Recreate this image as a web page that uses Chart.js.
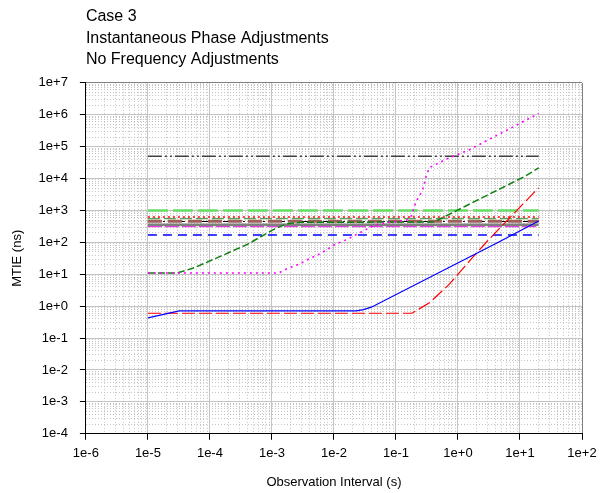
<!DOCTYPE html>
<html>
<head>
<meta charset="utf-8">
<script src="https://cdn.jsdelivr.net/npm/chart.js@4.4.1/dist/chart.umd.min.js"></script>
<style>
  html, body { margin: 0; padding: 0; background: #ffffff; }
  canvas { display: block; }
</style>
</head>
<body>
<canvas id="mtie" width="608" height="493"></canvas>
<script>
// Heading and axis text
const titleLines = ['Case 3', 'Instantaneous Phase Adjustments', 'No Frequency Adjustments'];
const xAxisTitle = 'Observation Interval (s)';
const yAxisTitle = 'MTIE (ns)';

// Decade tick labels
const xTickLabels = ['1e-6', '1e-5', '1e-4', '1e-3', '1e-2', '1e-1', '1e+0', '1e+1', '1e+2'];
const yTickLabels = ['1e-4', '1e-3', '1e-2', '1e-1', '1e+0', '1e+1', '1e+2', '1e+3', '1e+4', '1e+5', '1e+6', '1e+7'];
const xDecades = [-6, 2];
const yDecades = [-4, 7];

// Constant mask levels (ns), drawn over the same observation span (s)
const levelSpan = [1e-5, 20];
const levelA = 50000;
const levelB = 1000;
const levelC = 620;
const levelD = 550;
const levelE = 460;
const levelF = 450;
const levelG = 355;
const levelH = 320;
const levelI = 170;

// Measured MTIE curves: observation interval (s) and MTIE (ns)
const greenTau  = [1e-5, 3e-5, 5.6e-5, 1.5e-4, 4e-4, 1.07e-3, 1.75e-3, 2.9e-3, 0.41, 1.34, 4.06, 12.3, 20];
const greenMtie = [11, 11, 16, 37, 86, 256, 384, 425, 435, 1380, 4070, 12000, 21500];

const magentaTau  = [1e-5, 1.29e-3, 1.75e-3, 2.69e-3, 4.14e-3, 6.37e-3, 0.0104, 0.0164, 0.0262, 0.0456, 0.070, 0.147, 0.177, 0.212, 0.24, 0.271, 0.307, 0.347, 0.64, 1.6, 3.2, 7.5, 17.8, 20];
const magentaMtie = [11, 11, 14.9, 20.4, 31.5, 47, 86.5, 124, 200, 349, 412, 490, 668, 1977, 2870, 4600, 12000, 22000, 40000, 83000, 170000, 400000, 970000, 1100000];

const blueTau  = [1e-5, 3.2e-5, 0.023, 0.03, 0.04, 4.9, 20];
const blueMtie = [0.43, 0.71, 0.71, 0.78, 0.93, 110, 467];

const redTau  = [1e-5, 0.18, 0.347, 0.72, 1.71, 2.98, 17.8, 20];
const redMtie = [0.6, 0.6, 1.27, 4.8, 33, 110, 4070, 5100];

const pairs = (xs, ys) => xs.map((x, i) => ({ x: x, y: ys[i] }));
const level = (v) => levelSpan.map(x => ({ x: x, y: v }));

const isDecade = (v) => {
  const l = Math.log10(v);
  return Math.abs(l - Math.round(l)) < 1e-6;
};

// All 1..9 ticks per decade so that the minor grid gets drawn
const logTicks = (lo, hi) => {
  const t = [];
  for (let e = lo; e < hi; e++) {
    for (let m = 1; m <= 9; m++) t.push({ value: m * Math.pow(10, e) });
  }
  t.push({ value: Math.pow(10, hi) });
  return t;
};

const gridColor = (ctx, lastDecade) => {
  if (!ctx.tick) return '#c0c0c0';
  const v = ctx.tick.value;
  if (isDecade(v) && Math.round(Math.log10(v)) === lastDecade) return '#808080';
  return '#c4c4c4';
};
const gridDash = (ctx) => (ctx.tick && !isDecade(ctx.tick.value)) ? [1, 2] : [];
const tickColor = (ctx) => (ctx.tick && isDecade(ctx.tick.value)) ? '#000000' : 'rgba(0,0,0,0)';

Chart.defaults.font.family = "'Liberation Sans', Arial, sans-serif";
Chart.defaults.color = '#000000';

const lineBase = { pointRadius: 0, pointHoverRadius: 0, fill: false, tension: 0 };

new Chart(document.getElementById('mtie'), {
  type: 'line',
  data: {
    datasets: [
      Object.assign({ data: pairs(blueTau, blueMtie), borderColor: '#0000ff', borderWidth: 1.2 }, lineBase),
      Object.assign({ data: pairs(redTau, redMtie), borderColor: '#ff0000', borderWidth: 1.2, borderDash: [13, 4] }, lineBase),
      Object.assign({ data: pairs(magentaTau, magentaMtie), borderColor: '#ff00ff', borderWidth: 1.6, borderDash: [2, 4] }, lineBase),
      Object.assign({ data: pairs(greenTau, greenMtie), borderColor: '#108010', borderWidth: 1.5, borderDash: [7, 3] }, lineBase),
      Object.assign({ data: level(levelA), borderColor: '#404040', borderWidth: 1.5, borderDash: [14, 3, 2, 3, 2, 3] }, lineBase),
      Object.assign({ data: level(levelC), borderColor: '#ff0000', borderWidth: 1.6, borderDash: [2, 3] }, lineBase),
      Object.assign({ data: level(levelD), borderColor: '#2e8b2e', borderWidth: 1, borderDash: [12, 4] }, lineBase),
      Object.assign({ data: level(levelE), borderColor: '#a0605c', borderWidth: 3, borderDash: [14, 6] }, lineBase),
      Object.assign({ data: level(levelF), borderColor: '#000000', borderWidth: 1, borderDash: [12, 3, 2, 3, 2, 3] }, lineBase),
      Object.assign({ data: level(levelG), borderColor: '#808080', borderWidth: 2.5 }, lineBase),
      Object.assign({ data: level(levelH), borderColor: '#e040e0', borderWidth: 2, borderDash: [14, 3] }, lineBase),
      Object.assign({ data: level(levelI), borderColor: '#0000ff', borderWidth: 1.5, borderDash: [9, 6] }, lineBase),
      Object.assign({ data: level(levelB), borderColor: '#66dd66', borderWidth: 2.5, borderDash: [20, 5] }, lineBase)
    ]
  },
  options: {
    responsive: false,
    animation: false,
    events: [],
    layout: { padding: { left: 6, right: 26, top: 0, bottom: 3 } },
    plugins: {
      legend: { display: false },
      tooltip: { enabled: false },
      title: {
        display: true,
        text: titleLines,
        align: 'start',
        fullSize: false,
        color: '#000000',
        font: { size: 16, weight: 'normal', lineHeight: 1.35 },
        padding: { top: 6, bottom: 12 }
      }
    },
    scales: {
      x: {
        type: 'logarithmic',
        min: Math.pow(10, xDecades[0]),
        max: Math.pow(10, xDecades[1]),
        afterBuildTicks: (s) => { s.ticks = logTicks(xDecades[0], xDecades[1]); },
        ticks: {
          autoSkip: false,
          maxRotation: 0,
          padding: 6,
          font: { size: 13 },
          color: '#000000',
          callback: (v) => isDecade(v) ? xTickLabels[Math.round(Math.log10(v)) - xDecades[0]] : ''
        },
        grid: {
          color: (ctx) => gridColor(ctx, xDecades[1]),
          lineWidth: 1,
          tickLength: 6,
          tickColor: tickColor
        },
        border: { display: true, color: '#000000', width: 1, dash: gridDash },
        title: { display: true, text: xAxisTitle, font: { size: 13 }, color: '#000000', padding: { top: 7, bottom: 0 } }
      },
      y: {
        type: 'logarithmic',
        min: Math.pow(10, yDecades[0]),
        max: Math.pow(10, yDecades[1]),
        afterBuildTicks: (s) => { s.ticks = logTicks(yDecades[0], yDecades[1]); },
        ticks: {
          autoSkip: false,
          padding: 12,
          font: { size: 13 },
          color: '#000000',
          callback: (v) => isDecade(v) ? yTickLabels[Math.round(Math.log10(v)) - yDecades[0]] : ''
        },
        grid: {
          color: (ctx) => gridColor(ctx, yDecades[1]),
          lineWidth: 1,
          tickLength: 6,
          tickColor: tickColor
        },
        border: { display: true, color: '#000000', width: 1, dash: gridDash },
        title: { display: true, text: yAxisTitle, font: { size: 13 }, color: '#000000', padding: { top: 4, bottom: 1 } }
      }
    }
  }
});
</script>
</body>
</html>
